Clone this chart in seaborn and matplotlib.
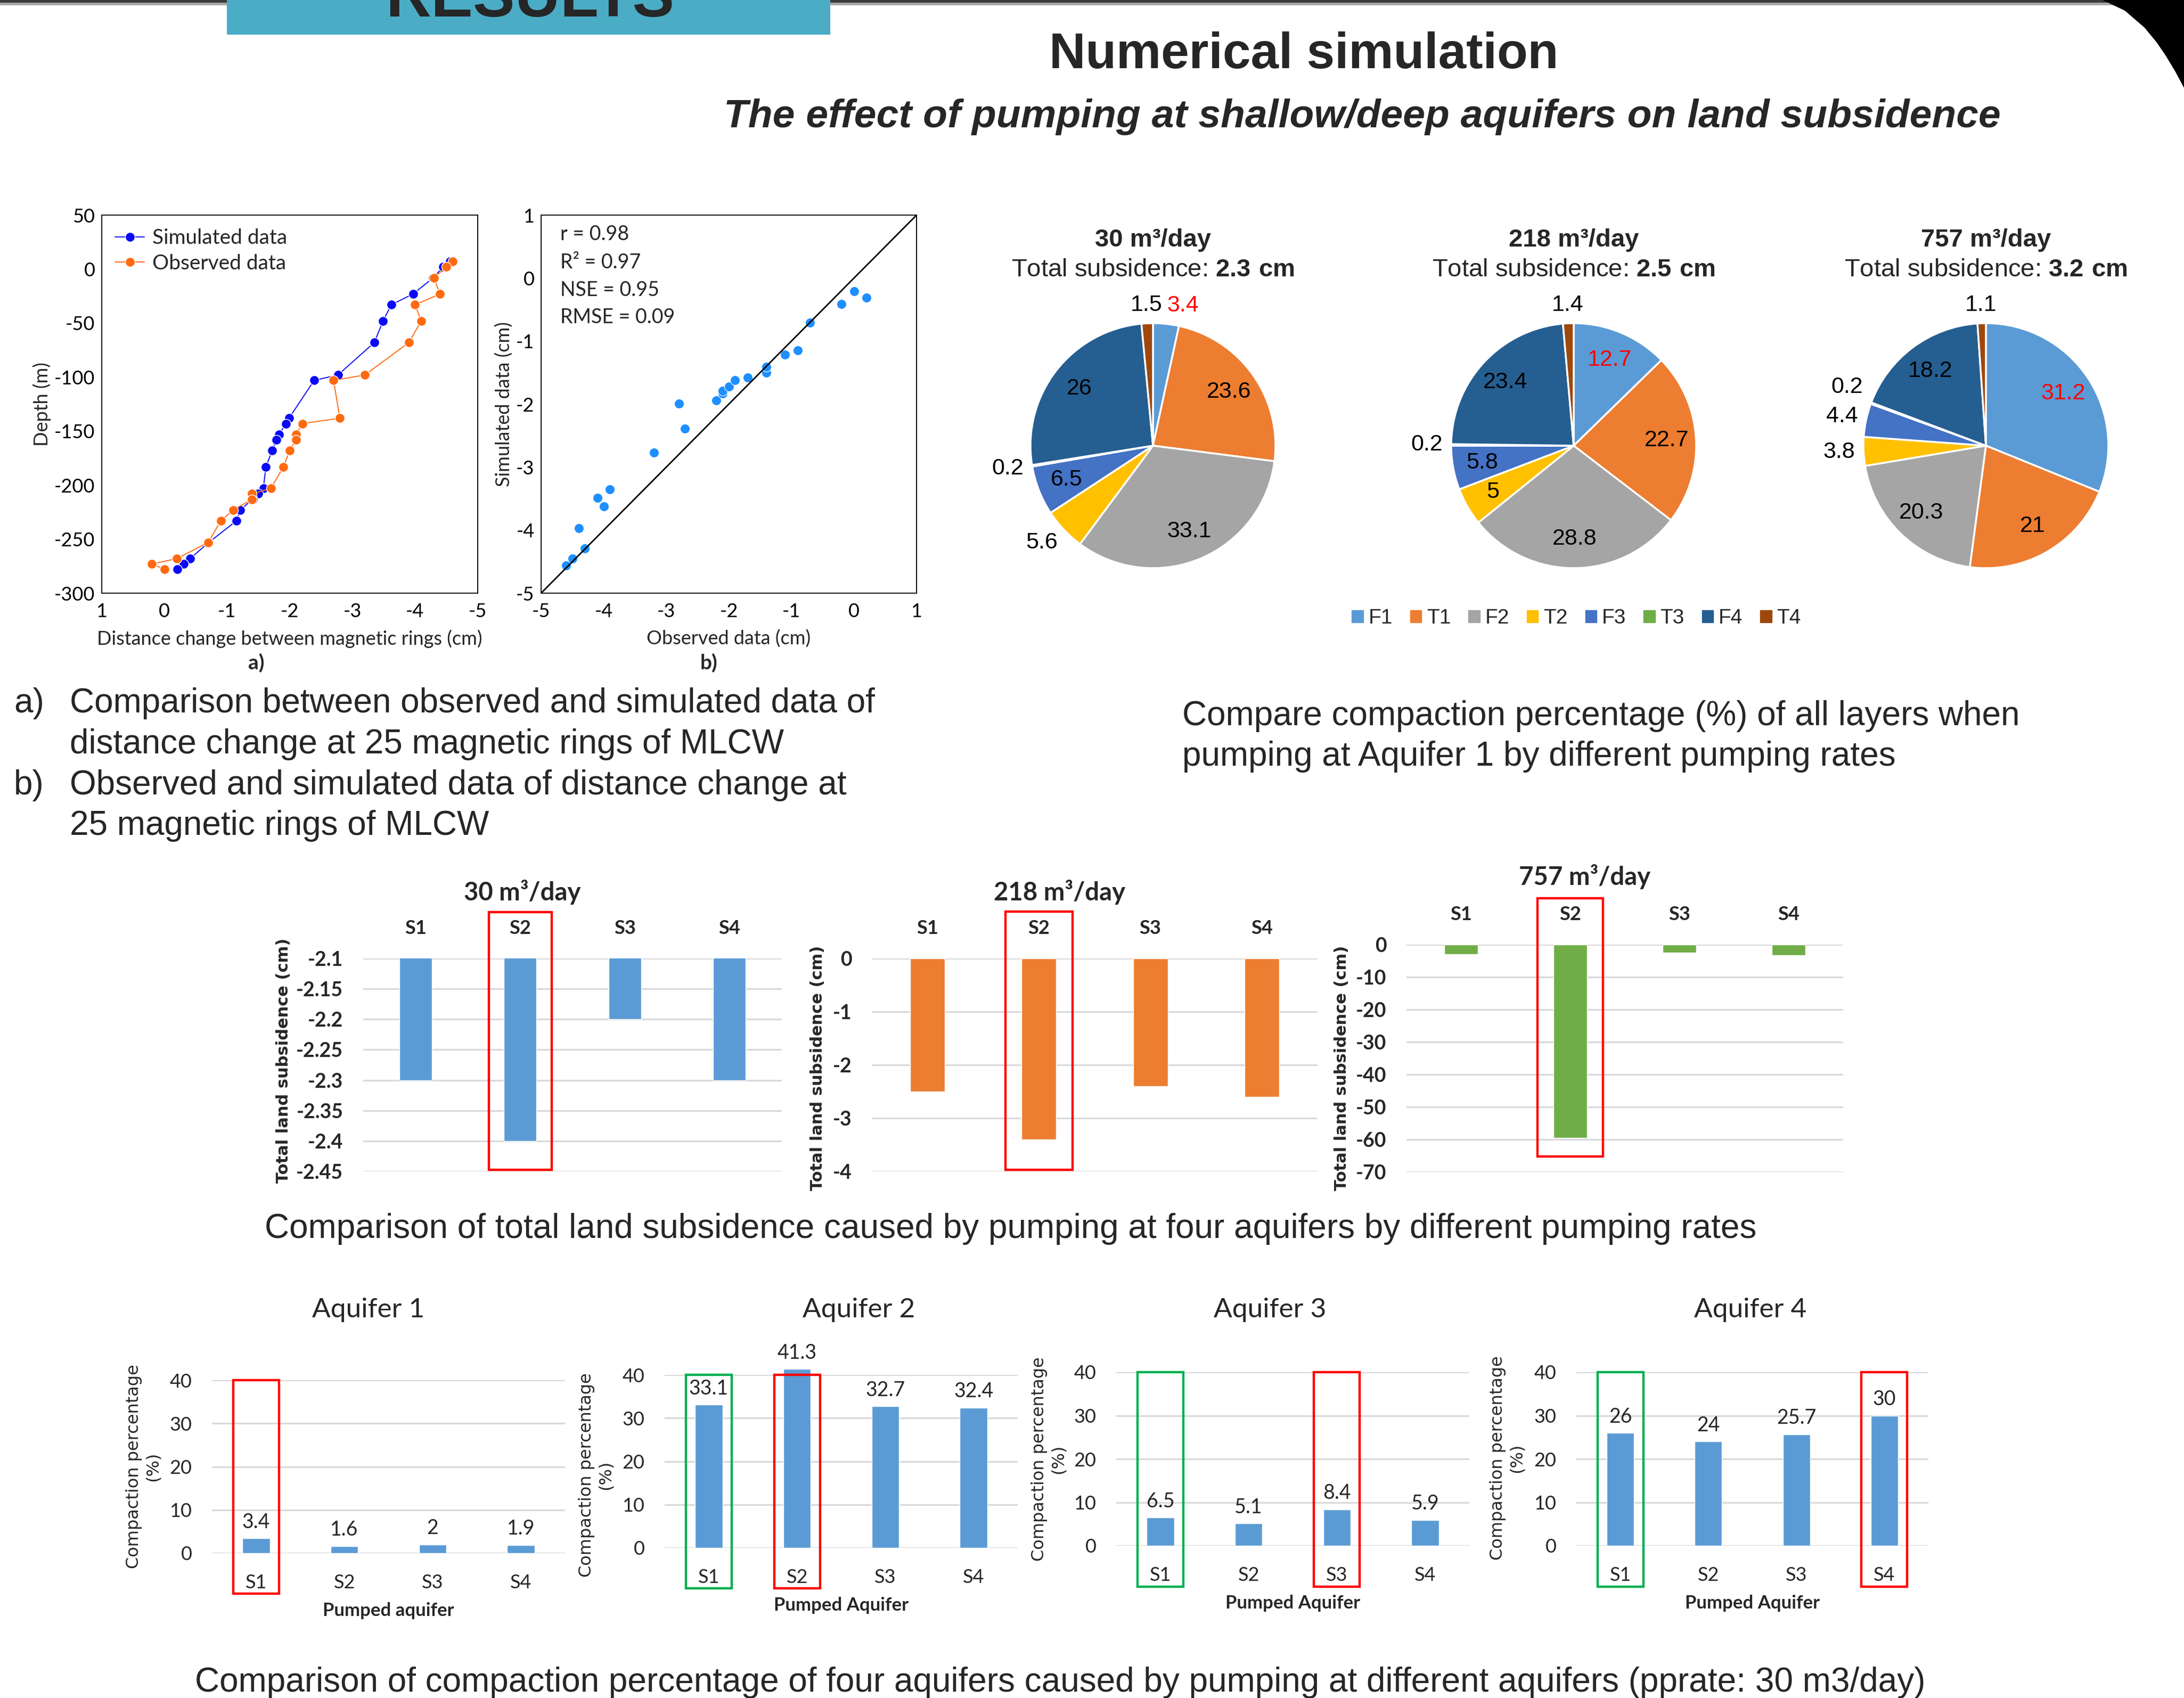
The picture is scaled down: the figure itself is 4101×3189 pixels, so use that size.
import numpy as np
import matplotlib
matplotlib.use('Agg')
import matplotlib.pyplot as plt
import matplotlib.patches as mpatches
import matplotlib.transforms as mtransforms
from matplotlib.ticker import FuncFormatter
import seaborn as sns

W, H = 4101, 3189

# ---- data: magnetic rings (panel a / b) ----
ring_depth = [7, 2, -8, -23, -33, -48, -68, -98, -103, -138, -143, -153, -158,
              -168, -183, -203, -208, -213, -223, -233, -253, -268, -273, -278]
observed = [-4.6, -4.5, -4.3, -4.4, -4.0, -4.1, -3.9, -3.2, -2.7, -2.8, -2.2, -2.1, -2.1,
            -2.0, -1.9, -1.7, -1.4, -1.4, -1.1, -0.9, -0.7, -0.2, 0.2, 0.0]
simulated = [-4.56, -4.45, -4.29, -3.97, -3.62, -3.49, -3.35, -2.77, -2.39, -1.99, -1.94, -1.83, -1.79,
             -1.72, -1.62, -1.58, -1.50, -1.41, -1.21, -1.15, -0.71, -0.41, -0.31, -0.21]
fit_stats = ['r = 0.98', 'R² = 0.97', 'NSE = 0.95', 'RMSE = 0.09']

# ---- data: compaction of layers (pies) ----
layers = ['F1', 'T1', 'F2', 'T2', 'F3', 'T3', 'F4', 'T4']
rates = ['30', '218', '757']
total_sub = ['2.3', '2.5', '3.2']
comp_30 = [3.4, 23.6, 33.1, 5.6, 6.5, 0.2, 26, 1.5]
comp_218 = [12.7, 22.7, 28.8, 5, 5.8, 0.2, 23.4, 1.4]
comp_757 = [31.2, 21, 20.3, 3.8, 4.4, 0.2, 18.2, 1.1]

# ---- data: total land subsidence (cm) by pumped aquifer ----
pumped = ['S1', 'S2', 'S3', 'S4']
sub_30 = [-2.3, -2.4, -2.2, -2.3]
sub_218 = [-2.5, -3.4, -2.4, -2.6]
sub_757 = [-3.0, -59.5, -2.5, -3.3]

# ---- data: compaction percentage of each aquifer (30 m3/day) ----
aquifers = ['Aquifer 1', 'Aquifer 2', 'Aquifer 3', 'Aquifer 4']
aq1 = [3.4, 1.6, 2, 1.9]
aq2 = [33.1, 41.3, 32.7, 32.4]
aq3 = [6.5, 5.1, 8.4, 5.9]
aq4 = [26, 24, 25.7, 30]

layer_colors = ['#5B9BD5', '#ED7D31', '#A5A5A5', '#FFC000', '#4472C4', '#70AD47', '#255E91', '#9E480E']

sns.set_style('white')
plt.rcParams['font.family'] = ['Lato', 'DejaVu Sans']
plt.rcParams['axes.unicode_minus'] = False
plt.rcParams['mathtext.fontset'] = 'custom'
plt.rcParams['mathtext.rm'] = 'Liberation Sans'
plt.rcParams['mathtext.bf'] = 'Liberation Sans:bold'

fig = plt.figure(figsize=(W / 100, H / 100), dpi=100)
ARIAL = 'Liberation Sans'


def box(x0, y0, x1, y1):
    return [x0 / W, 1 - y1 / H, (x1 - x0) / W, (y1 - y0) / H]


def ftext(x, y, s, **kw):
    return fig.text(x / W, 1 - y / H, s, **kw)


def frect(x0, y0, x1, y1, **kw):
    fig.add_artist(mpatches.Rectangle((x0 / W, 1 - y1 / H), (x1 - x0) / W, (y1 - y0) / H,
                                      transform=fig.transFigure, **kw))


# ---- poster decorations ----
frect(0, 0, W, 5, color='#3b3b3b', lw=0)
frect(0, 5, W, 10, color='#a8a8a8', lw=0)
frect(426, 0, 1559, 65, color='#4BACC6', lw=0)
ftext(995, 31, 'RESULTS', ha='center', va='baseline', fontsize=85, fontweight='bold', family=ARIAL)
corner = [(3948, 0), (3990, 20), (4027, 52), (4050, 80), (4067, 105), (4085, 135), (4101, 165), (4101, 0)]
fig.add_artist(mpatches.Polygon([(x / W, 1 - y / H) for x, y in corner], closed=True,
                                transform=fig.transFigure, color='black', lw=0))

ftext(2448, 128, 'Numerical simulation', ha='center', va='baseline', fontsize=68,
      fontweight='bold', family=ARIAL)
ftext(2558, 239, 'The effect of pumping at shallow/deep aquifers on land subsidence', ha='center',
      va='baseline', fontsize=54, fontweight='bold', style='italic', family=ARIAL)

# ---- panel a ----
ax = fig.add_axes(box(191, 404, 897, 1114))
line_kw = dict(sort=False, estimator=None, marker='o', markersize=13, markeredgecolor='white',
               markeredgewidth=1, linewidth=1.4, ax=ax)
sns.lineplot(x=simulated, y=ring_depth, color='#0A0AF5', label='Simulated data', **line_kw)
sns.lineplot(x=observed, y=ring_depth, color='#FF6A10', label='Observed data', **line_kw)
ax.set_xlim(1, -5)
ax.set_ylim(-300, 50)
ax.set_xticks(range(1, -6, -1))
ax.set_yticks(range(-300, 51, 50))
ax.legend(loc='upper left', frameon=False, fontsize=28, handlelength=1.4, borderaxespad=0.25,
          labelspacing=0.3, handletextpad=0.4)
ax.set_xlabel('Distance change between magnetic rings (cm)', fontsize=26, va='center')
ax.set_ylabel('Depth (m)', fontsize=26, va='center')
ax.xaxis.set_label_coords(0.5, -0.12)
ax.yaxis.set_label_coords(-0.159, 0.5)
ftext(481, 1245, 'a)', ha='center', va='center', fontsize=28, fontweight='bold')

# ---- panel b ----
bx = fig.add_axes(box(1016, 404, 1721, 1114))
sns.scatterplot(x=observed, y=simulated, color='#1E8FFF', s=170, edgecolor='white', linewidth=0.8, ax=bx)
bx.axline((0, 0), slope=1, color='black', lw=2)
bx.set_xlim(-5, 1)
bx.set_ylim(-5, 1)
bx.set_xticks(range(-5, 2))
bx.set_yticks(range(-5, 2))
for s, yf in zip(fit_stats, [0.949, 0.875, 0.802, 0.729]):
    bx.text(0.051, yf, s, transform=bx.transAxes, fontsize=27, va='center')
bx.set_xlabel('Observed data (cm)', fontsize=26, va='center')
bx.set_ylabel('Simulated data (cm)', fontsize=26, va='center')
bx.xaxis.set_label_coords(0.5, -0.12)
bx.yaxis.set_label_coords(-0.098, 0.5)
ftext(1331, 1245, 'b)', ha='center', va='center', fontsize=28, fontweight='bold')

for a in (ax, bx):
    a.tick_params(direction='in', length=9, width=1.4, labelsize=26, colors='black')
    a.tick_params(axis='x', pad=13)
    a.tick_params(axis='y', pad=9)
    for sp in a.spines.values():
        sp.set_visible(True)
        sp.set_color('black')
        sp.set_linewidth(1.4)

# ---- pies ----
pie_cx = [2165, 2955, 3729]
pie_cy = 837
pie_r = 230
label_outside = [[True, False, False, True, False, True, False, True],
                 [False, False, False, False, False, True, False, True],
                 [False, False, False, True, True, True, False, True]]
for k, vals in enumerate([comp_30, comp_218, comp_757]):
    cx = pie_cx[k]
    ext = 1.5 * pie_r
    pax = fig.add_axes(box(cx - ext, pie_cy - ext, cx + ext, pie_cy + ext))
    wedges, _ = pax.pie(vals, colors=layer_colors, startangle=90, counterclock=False,
                        wedgeprops=dict(edgecolor='white', linewidth=2.5))
    pax.set_xlim(-1.5, 1.5)
    pax.set_ylim(-1.5, 1.5)
    pax.axis('off')
    placed = []
    for i, w in enumerate(wedges):
        ang = np.deg2rad((w.theta1 + w.theta2) / 2)
        c, s = np.cos(ang), np.sin(ang)
        if label_outside[k][i]:
            ha = 'left' if c > 0.1 else ('right' if c < -0.1 else 'center')
            px, py = (1.15 if ha == 'center' else 1.07) * c, 1.15 * s
        else:
            ha = 'center'
            px, py = 0.76 * c, 0.76 * s
        placed.append([px, py, ha, i])
    # keep outside labels on the same side from overlapping
    for side in ('left', 'right'):
        group = sorted([p for p in placed if label_outside[k][p[3]] and p[2] == side], key=lambda p: p[1])
        for lo, hi in zip(group[:-1], group[1:]):
            if hi[1] - lo[1] < 0.24:
                hi[1] = lo[1] + 0.24
    for px, py, ha, i in placed:
        pax.text(px, py, f'{vals[i]:g}', ha=ha, va='center', fontsize=31, family=ARIAL,
                 color='red' if i == 0 else 'black')
    ftext(cx, 451, f'{rates[k]} m³/day', ha='center', va='center', fontsize=34, fontweight='bold', family=ARIAL)
    ftext(cx, 507, 'Total subsidence: $\\mathbf{' + total_sub[k] + '\\ cm}$', ha='center', va='center',
          fontsize=34, family=ARIAL)

fig.legend(handles=[mpatches.Patch(color=c) for c in layer_colors], labels=layers, ncol=8, loc='center',
           bbox_to_anchor=(2960 / W, 1 - 1161 / H), frameon=False, handlelength=0.55,
           handleheight=0.55, handletextpad=0.25, columnspacing=0.85, prop={'family': ARIAL, 'size': 28})

# ---- captions ----
cap = dict(fontsize=46, family=ARIAL, va='baseline')
ftext(26, 1338, 'a)', **cap)
ftext(131, 1338, 'Comparison between observed and simulated data of', **cap)
ftext(131, 1415, 'distance change at 25 magnetic rings of MLCW', **cap)
ftext(26, 1492, 'b)', **cap)
ftext(131, 1492, 'Observed and simulated data of distance change at', **cap)
ftext(131, 1568, '25 magnetic rings of MLCW', **cap)
ftext(2220, 1362, 'Compare compaction percentage (%) of all layers when', **cap)
ftext(2220, 1438, 'pumping at Aquifer 1 by different pumping rates', **cap)
ftext(497, 2325, 'Comparison of total land subsidence caused by pumping at four aquifers by different pumping rates', **cap)
ftext(366, 3177, 'Comparison of compaction percentage of four aquifers caused by pumping at different aquifers '
                 '(pprate: 30 m3/day)', **cap)

# ---- total land subsidence bars ----
mid_vals = [sub_30, sub_218, sub_757]
mid_colors = ['#5B9BD5', '#ED7D31', '#70AD47']
mid_boxes = [(682, 1800, 1468, 2200), (1637, 1800, 2474, 2200), (2641, 1774, 3461, 2201)]
mid_ylim = [(-2.45, -2.1), (-4, 0), (-70, 0)]
mid_ticks = [np.round(np.arange(-2.45, -2.09, 0.05), 2), np.arange(-4, 1), np.arange(-70, 1, 10)]
mid_title_xy = [(981, 1675), (1989, 1675), (2976, 1647)]
mid_ylab_xy = [(-0.19, 0.52), (-0.121, 0.485), (-0.148, 0.457)]
mid_hl = [(1.2175, 0.0075), (1.22, 0.0075), (1.204, 0.068)]

for k in range(3):
    m = fig.add_axes(box(*mid_boxes[k]))
    sns.barplot(x=pumped, y=mid_vals[k], color=mid_colors[k], width=0.31, saturation=1, errorbar=None, ax=m)
    m.set_ylim(*mid_ylim[k])
    m.set_yticks(mid_ticks[k])
    m.yaxis.set_major_formatter(FuncFormatter(lambda v, p: f'{v:g}'))
    m.yaxis.grid(True, color='#D9D9D9', lw=2.2)
    m.set_axisbelow(True)
    sns.despine(ax=m, left=True, bottom=True)
    m.xaxis.tick_top()
    m.tick_params(axis='both', length=0)
    m.tick_params(axis='x', pad=29, labelsize=26)
    m.tick_params(axis='y', pad=27, labelsize=27)
    for t in m.get_xticklabels() + m.get_yticklabels():
        t.set_fontweight('bold')
    m.set_xlabel('')
    m.set_ylabel('Total land subsidence (cm)', family='DejaVu Sans', fontweight='bold', fontsize=22, va='center')
    m.yaxis.set_label_coords(*mid_ylab_xy[k])
    tr = mtransforms.blended_transform_factory(m.transData, m.transAxes)
    top, bot = mid_hl[k]
    m.add_patch(mpatches.Rectangle((1 - 0.3, bot), 0.6, top - bot, transform=tr, fill=False,
                                   ec='#FF0000', lw=3.2, clip_on=False))
    ftext(*mid_title_xy[k], f'{rates[k]} m³/day', ha='center', va='center', fontsize=34, fontweight='bold')

# ---- compaction percentage bars ----
bot_vals = [aq1, aq2, aq3, aq4]
bot_boxes = [(398, 2592, 1061, 2917), (1248, 2582, 1911, 2907), (2096, 2577, 2759, 2903), (2960, 2577, 3621, 2903)]
bot_title_xy = [(692, 2460), (1613, 2460), (2385, 2460), (3287, 2460)]
bot_ylab_xy = [(-0.1946, 0.5), (-0.1946, 0.42), (-0.1916, 0.5), (-0.1967, 0.506)]
bot_xlabels = ['Pumped aquifer', 'Pumped Aquifer', 'Pumped Aquifer', 'Pumped Aquifer']
bot_hl = [[(0, '#FF0000')], [(0, '#00B050'), (1, '#FF0000')], [(0, '#00B050'), (2, '#FF0000')],
          [(0, '#00B050'), (3, '#FF0000')]]

for k in range(4):
    b = fig.add_axes(box(*bot_boxes[k]))
    sns.barplot(x=pumped, y=bot_vals[k], color='#5B9BD5', width=0.31, saturation=1, errorbar=None, ax=b)
    for p in b.patches:
        p.set_clip_on(False)
    anns = b.bar_label(b.containers[0], labels=[f'{v:g}' for v in bot_vals[k]], padding=9, fontsize=27)
    for t in anns:
        t.set_annotation_clip(False)
        t.set_clip_on(False)
    b.set_ylim(0, 40)
    b.set_yticks(range(0, 41, 10))
    b.yaxis.grid(True, color='#D9D9D9', lw=2.2)
    b.set_axisbelow(True)
    sns.despine(ax=b, left=True, bottom=True)
    b.tick_params(axis='both', length=0)
    b.tick_params(axis='x', pad=28, labelsize=26)
    b.tick_params(axis='y', pad=27, labelsize=26)
    b.set_xlabel(bot_xlabels[k], fontsize=25, fontweight='bold', va='center')
    b.xaxis.set_label_coords(0.5, -0.332)
    b.set_ylabel('Compaction percentage\n(%)', family='DejaVu Sans', fontsize=23, va='center', linespacing=1.2)
    b.yaxis.set_label_coords(*bot_ylab_xy[k])
    tr = mtransforms.blended_transform_factory(b.transData, b.transAxes)
    for idx, col in bot_hl[k]:
        b.add_patch(mpatches.Rectangle((idx - 0.26, -0.235), 0.52, 1.235, transform=tr, fill=False,
                                       ec=col, lw=3.2, clip_on=False))
    ftext(*bot_title_xy[k], aquifers[k], ha='center', va='center', fontsize=37)

fig.savefig('out.png', dpi=100, facecolor='white')
